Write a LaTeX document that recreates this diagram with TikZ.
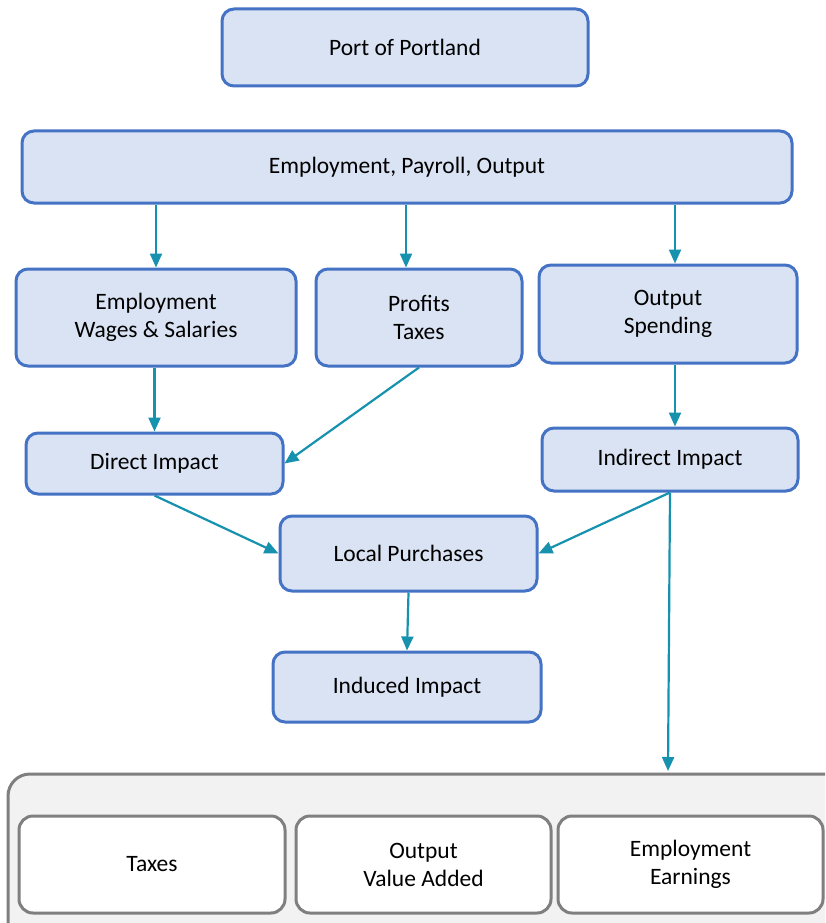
\documentclass[tikz,border=0pt]{standalone}
\usepackage{fontspec}
\setmainfont{Carlito}
\usetikzlibrary{arrows.meta,positioning,calc}
\definecolor{boxfill}{HTML}{DAE3F3}
\definecolor{boxline}{HTML}{4472C4}
\definecolor{arrowc}{HTML}{1792AE}
\definecolor{grayfill}{HTML}{F2F2F2}
\definecolor{grayline}{HTML}{7F7F7F}
\tikzset{
  bluebox/.style={draw=boxline, fill=boxfill, line width=3pt, rounded corners=12pt, align=center, font=\fontsize{23.5}{28}\selectfont, inner sep=0pt},
  whitebox/.style={draw=grayline, fill=white, line width=3pt, rounded corners=14pt, align=center, font=\fontsize{23.5}{28}\selectfont, inner sep=0pt},
  flow/.style={draw=arrowc, line width=2.2pt, -{Triangle[length=14pt,width=12pt]}},
}
\newcommand{\boxat}[6]{% name, style, x1,y1,x2,y2 -> node
  \node[#2, minimum width={#5-#3}, minimum height={#6-#4}] (#1) at ({(#3+#5)/2},{(#4+#6)/2})}
\begin{document}
\begin{tikzpicture}[x=1pt,y=-1pt]
\clip (0,0) rectangle (825,923);
\fill[white] (0,0) rectangle (825,923);
% container
\draw[draw=grayline, fill=grayfill, line width=3pt, rounded corners=22pt] (8,774) rectangle (860,960);
\boxat{port}{bluebox}{222}{9}{588}{86} {Port of Portland};
\boxat{epo}{bluebox}{22}{131}{792}{203} {Employment, Payroll, Output};
\boxat{emp}{bluebox}{16}{269}{296}{366} {Employment\\Wages \& Salaries};
\boxat{prof}{bluebox}{316}{269}{522}{366} {Profits\\Taxes};
\boxat{outs}{bluebox}{539}{265}{797}{363} {Output\\Spending};
\boxat{direct}{bluebox}{26}{433}{283}{494} {Direct Impact};
\boxat{indirect}{bluebox}{542}{428}{798}{491} {Indirect Impact};
\boxat{local}{bluebox}{280}{516}{537}{591} {Local Purchases};
\boxat{induced}{bluebox}{273}{652}{541}{722} {Induced Impact};
\boxat{taxes}{whitebox}{19}{816}{285}{913} {Taxes};
\boxat{ova}{whitebox}{296}{816}{551}{913} {Output\\Value Added};
\boxat{earn}{whitebox}{558}{816}{823}{913} {Employment\\Earnings};
\coordinate (ctop) at (668,771);
% arrows
\draw[flow] (epo.south -| emp.north) -- (emp.north);
\draw[flow] ([xshift=-13pt]epo.south -| prof.north) -- ([xshift=-13pt]prof.north);
\draw[flow] ([xshift=7pt]epo.south -| outs.north) -- ([xshift=7pt]outs.north);
\draw[flow] (emp.south -| direct.north) -- (direct.north);
\draw[flow] (prof.south) -- (direct.east);
\draw[flow] ([xshift=7pt]outs.south) -- ([xshift=7pt]outs.south |- indirect.north);
\draw[flow] (direct.south) -- (local.west);
\draw[flow] (indirect.south) -- (local.east);
\draw[flow] (indirect.south) -- (ctop);
\draw[flow] (local.south) -- (induced.north);
\end{tikzpicture}
\end{document}
